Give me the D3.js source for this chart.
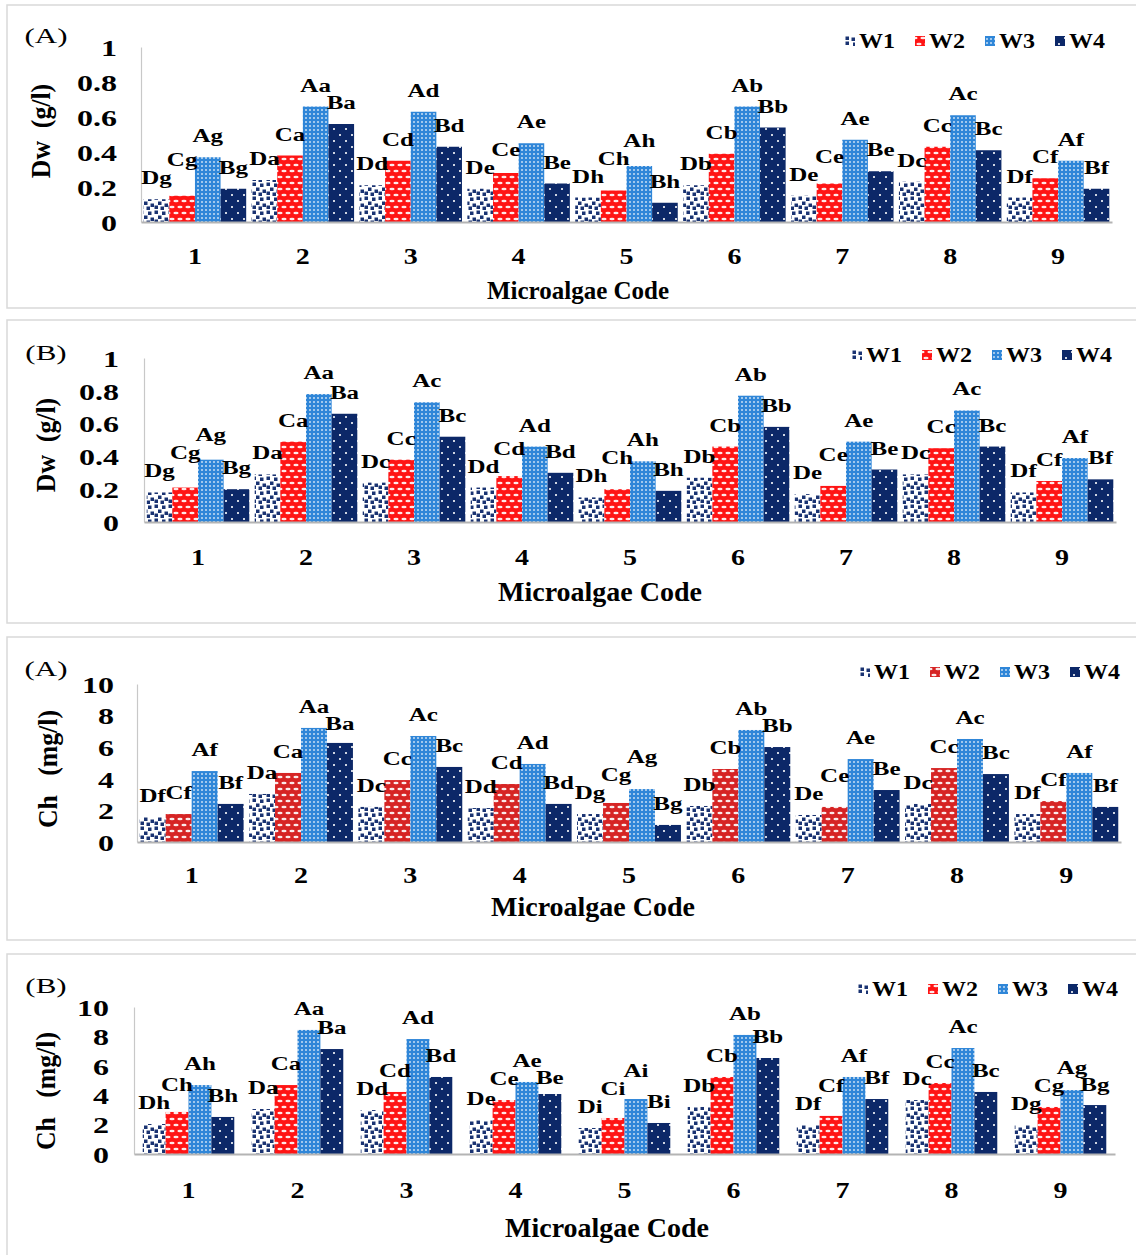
<!DOCTYPE html>
<html>
<head>
<meta charset="utf-8">
<script src="https://cdn.jsdelivr.net/npm/d3@7"></script>
<style>
  body { margin: 0; background: #fff; }
  svg text { font-family: "Liberation Serif", "Times New Roman", serif; fill: #000; }
</style>
</head>
<body>
<svg id="fig" width="1136" height="1255"></svg>
<script>
// Categories and series
const codes = ["1", "2", "3", "4", "5", "6", "7", "8", "9"];
const series = ["W1", "W2", "W3", "W4"];
const seriesLetters = ["D", "C", "A", "B"];

// Dry weight (g/l), panel (A)
const dwA_W1 = [0.13, 0.24, 0.21, 0.19, 0.14, 0.21, 0.15, 0.23, 0.14];
const dwA_W2 = [0.15, 0.38, 0.35, 0.28, 0.18, 0.39, 0.22, 0.43, 0.25];
const dwA_W3 = [0.37, 0.66, 0.63, 0.45, 0.32, 0.66, 0.47, 0.61, 0.35];
const dwA_W4 = [0.19, 0.56, 0.43, 0.22, 0.11, 0.54, 0.29, 0.41, 0.19];
const dwA_groups = ["g", "a", "d", "e", "h", "b", "e", "c", "f"];

// Dry weight (g/l), panel (B)
const dwB_W1 = [0.18, 0.29, 0.24, 0.21, 0.15, 0.27, 0.17, 0.29, 0.18];
const dwB_W2 = [0.21, 0.49, 0.38, 0.28, 0.20, 0.46, 0.22, 0.45, 0.25];
const dwB_W3 = [0.38, 0.78, 0.73, 0.46, 0.37, 0.77, 0.49, 0.68, 0.39];
const dwB_W4 = [0.20, 0.66, 0.52, 0.30, 0.19, 0.58, 0.32, 0.46, 0.26];
const dwB_groups = ["g", "a", "c", "d", "h", "b", "e", "c", "f"];

// Chlorophyll (mg/l), panel (A)
const chA_W1 = [1.58, 3.04, 2.22, 2.15, 1.77, 2.28, 1.71, 2.41, 1.77];
const chA_W2 = [1.77, 4.37, 3.92, 3.67, 2.47, 4.62, 2.22, 4.68, 2.59];
const chA_W3 = [4.49, 7.22, 6.71, 4.94, 3.35, 7.09, 5.25, 6.52, 4.37];
const chA_W4 = [2.41, 6.27, 4.75, 2.41, 1.08, 6.01, 3.29, 4.30, 2.22];
const chA_groups = ["f", "a", "c", "d", "g", "b", "e", "c", "f"];

// Chlorophyll (mg/l), panel (B)
const chB_W1 = [2.04, 3.06, 2.99, 2.31, 1.77, 3.20, 1.97, 3.67, 1.97];
const chB_W2 = [2.86, 4.69, 4.22, 3.67, 2.45, 5.24, 2.59, 4.83, 3.20];
const chB_W3 = [4.69, 8.44, 7.82, 4.90, 3.74, 8.10, 5.24, 7.21, 4.35];
const chB_W4 = [2.52, 7.14, 5.24, 4.08, 2.11, 6.53, 3.74, 4.22, 3.33];
const chB_groups = ["h", "a", "d", "e", "i", "b", "f", "c", "g"];

// Tick values
const dwTicks = [0, 0.2, 0.4, 0.6, 0.8, 1];
const chTicks = [0, 2, 4, 6, 8, 10];

// Layout of the four stacked panels
const panels = [
  { tag: "(A)", yTitle: "Dw  (g/l)", values: [dwA_W1, dwA_W2, dwA_W3, dwA_W4], groups: dwA_groups, ticks: dwTicks,
    boxTop: 5, boxH: 303, left: 141, right: 1112, top: 47, bottom: 222, tickRight: 117, catY: 256,
    xTitle: [578, 290, 25], yTitleAt: [40, 131], tagAt: [46, 35], legend: [845, 41], fill: 0.95, red: "bright" },
  { tag: "(B)", yTitle: "Dw  (g/l)", values: [dwB_W1, dwB_W2, dwB_W3, dwB_W4], groups: dwB_groups, ticks: dwTicks,
    boxTop: 320, boxH: 303, left: 144, right: 1116, top: 358, bottom: 522, tickRight: 119, catY: 557,
    xTitle: [600, 591, 28], yTitleAt: [45, 445], tagAt: [46, 352], legend: [852, 355], fill: 0.95, red: "bright" },
  { tag: "(A)", yTitle: "Ch   (mg/l)", values: [chA_W1, chA_W2, chA_W3, chA_W4], groups: chA_groups, ticks: chTicks,
    boxTop: 637, boxH: 303, left: 137, right: 1121, top: 684, bottom: 842, tickRight: 114, catY: 875,
    xTitle: [593, 906, 28], yTitleAt: [47, 769], tagAt: [46, 668], legend: [860, 672], fill: 0.95, red: "dark" },
  { tag: "(B)", yTitle: "Ch   (mg/l)", values: [chB_W1, chB_W2, chB_W3, chB_W4], groups: chB_groups, ticks: chTicks,
    boxTop: 954, boxH: 310, left: 134, right: 1115, top: 1007, bottom: 1154, tickRight: 109, catY: 1190,
    xTitle: [607, 1227, 28], yTitleAt: [45, 1091], tagAt: [46, 985], legend: [858, 989], fill: 0.84, red: "bright" }
];

const svg = d3.select("#fig");
const defs = svg.append("defs");

function addPattern(id, w, h, bg, draw) {
  const p = defs.append("pattern")
    .attr("id", id)
    .attr("patternUnits", "userSpaceOnUse")
    .attr("width", w)
    .attr("height", h);
  p.append("rect").attr("width", w).attr("height", h).attr("fill", bg);
  draw(p);
}

// W1: white with navy confetti
addPattern("pW1", 14, 14, "#ffffff", p => {
  [[0.5, 0.5], [8, 1.5], [4, 5.5], [10.5, 7.5], [0.5, 9.5], [6.5, 10.5]].forEach(([x, y]) => {
    p.append("rect").attr("x", x).attr("y", y).attr("width", 3.5).attr("height", 3.5).attr("fill", "#1a3372");
  });
});
// W2: red with white little ovals
[["bright", "#ff1414"], ["dark", "#d62424"]].forEach(([name, col]) => {
  addPattern("pW2" + name, 8, 12, col, p => {
    [[4, 3], [0, 9], [8, 9]].forEach(([x, y]) => {
      p.append("ellipse").attr("cx", x).attr("cy", y).attr("rx", 2.6).attr("ry", 1.3)
        .attr("fill", "#ffffff").attr("opacity", 0.9);
    });
  });
});
// W3: blue with a fine white dot grid
addPattern("pW3", 4, 4, "#2f86d8", p => {
  p.append("rect").attr("x", 1).attr("y", 1).attr("width", 2).attr("height", 2)
    .attr("fill", "#ffffff").attr("opacity", 0.55);
});
// W4: navy with sparse white dots
addPattern("pW4", 12, 12, "#0c2868", p => {
  [[3, 2], [9, 8]].forEach(([x, y]) => {
    p.append("rect").attr("x", x).attr("y", y).attr("width", 2).attr("height", 2)
      .attr("fill", "#ffffff").attr("opacity", 0.8);
  });
});

function fillFor(s, P) {
  return s === "W2" ? "url(#pW2" + P.red + ")" : "url(#p" + s + ")";
}

panels.forEach(P => {
  const g = svg.append("g");

  // panel frame
  g.append("rect")
    .attr("x", 7).attr("y", P.boxTop)
    .attr("width", 1140).attr("height", P.boxH)
    .attr("fill", "none").attr("stroke", "#d9d9d9").attr("stroke-width", 1.5);

  const x0 = d3.scaleBand().domain(codes).range([P.left, P.right])
    .paddingInner(1 - P.fill).paddingOuter((1 - P.fill) / 2);
  const x1 = d3.scaleBand().domain(series).range([0, x0.bandwidth()]);
  const y = d3.scaleLinear().domain([0, d3.max(P.ticks)]).range([P.bottom, P.top]);

  // bars
  series.forEach((s, si) => {
    g.append("g").selectAll("rect")
      .data(P.values[si])
      .join("rect")
      .attr("x", (v, i) => x0(codes[i]) + x1(s))
      .attr("y", v => y(v))
      .attr("width", x1.bandwidth())
      .attr("height", v => y(0) - y(v))
      .attr("fill", fillFor(s, P));
  });

  // y axis
  const yAx = g.append("g")
    .attr("transform", "translate(" + P.left + ",0)")
    .call(d3.axisLeft(y).tickValues(P.ticks).tickFormat(d3.format("~g"))
      .tickSize(0).tickSizeOuter(0).tickPadding(P.left - P.tickRight));
  yAx.select(".domain").attr("stroke", "#c8c8c8").attr("stroke-width", 1.2);
  yAx.selectAll("text")
    .attr("font-size", 32).attr("font-weight", "bold")
    .attr("font-family", '"Liberation Serif", serif')
    .attr("dy", "0.35em")
    .attr("transform", "scale(1,0.74)");

  // x axis
  const xAx = g.append("g")
    .attr("transform", "translate(0," + P.bottom + ")")
    .call(d3.axisBottom(x0).tickSize(0).tickSizeOuter(0));
  xAx.select(".domain").attr("stroke", "#b4b4b4").attr("stroke-width", 2);
  xAx.selectAll("text")
    .attr("font-size", 28).attr("font-weight", "bold")
    .attr("font-family", '"Liberation Serif", serif')
    .attr("y", 0).attr("dy", "0.35em")
    .attr("transform", "translate(0," + (P.catY - P.bottom) + ") scale(1,0.84)");

  // data labels: a label that collides with an earlier one goes above it
  // when it is the higher of the two, otherwise it sits just under it
  const labelG = g.append("g");
  const placed = [];
  codes.forEach((c, i) => {
    series.forEach((s, si) => {
      const v = P.values[si][i];
      const cx = x0(c) + x1(s) + x1.bandwidth() / 2;
      const t = labelG.append("text")
        .attr("text-anchor", "middle")
        .attr("font-size", 25).attr("font-weight", "bold")
        .text(seriesLetters[si] + P.groups[i]);
      const w = t.node().getComputedTextLength();
      let base = y(v) - 15;
      placed.forEach(o => {
        if (Math.abs(cx - o.cx) < (w + o.w) / 2 - 1 && Math.abs(base - o.base) < 17) {
          if (o.base < base && o.base + 17 < y(v) - 1) base = o.base + 17;
          else base = o.base - 18;
        }
      });
      placed.push({ cx, w, base });
      t.attr("transform", "translate(" + cx + "," + base + ") scale(1,0.76)");
    });
  });

  // axis titles and panel tag
  g.append("text")
    .attr("text-anchor", "middle")
    .attr("font-size", P.xTitle[2]).attr("font-weight", "bold")
    .attr("x", P.xTitle[0]).attr("y", P.xTitle[1]).attr("dy", "0.35em")
    .text("Microalgae Code");

  g.append("text")
    .attr("text-anchor", "middle")
    .attr("font-size", 28).attr("font-weight", "bold")
    .style("white-space", "pre")
    .attr("transform", "translate(" + P.yTitleAt[0] + "," + P.yTitleAt[1] + ") rotate(-90) scale(0.92,1)")
    .attr("dy", "0.35em")
    .text(P.yTitle);

  g.append("text")
    .attr("text-anchor", "middle")
    .attr("font-size", 31)
    .attr("transform", "translate(" + P.tagAt[0] + "," + P.tagAt[1] + ") scale(1,0.7)")
    .attr("dy", "0.35em")
    .text(P.tag);

  // legend
  const lg = g.append("g").attr("transform", "translate(" + P.legend[0] + "," + P.legend[1] + ")");
  series.forEach((s, si) => {
    const item = lg.append("g").attr("transform", "translate(" + (si * 70) + ",0)");
    item.append("rect")
      .attr("x", 0).attr("y", -5).attr("width", 10).attr("height", 10)
      .attr("fill", fillFor(s, P));
    item.append("text")
      .attr("font-size", 24).attr("font-weight", "bold")
      .attr("transform", "translate(14,0) scale(1,0.86)")
      .attr("dy", "0.35em")
      .text(s);
  });
});
</script>
</body>
</html>
